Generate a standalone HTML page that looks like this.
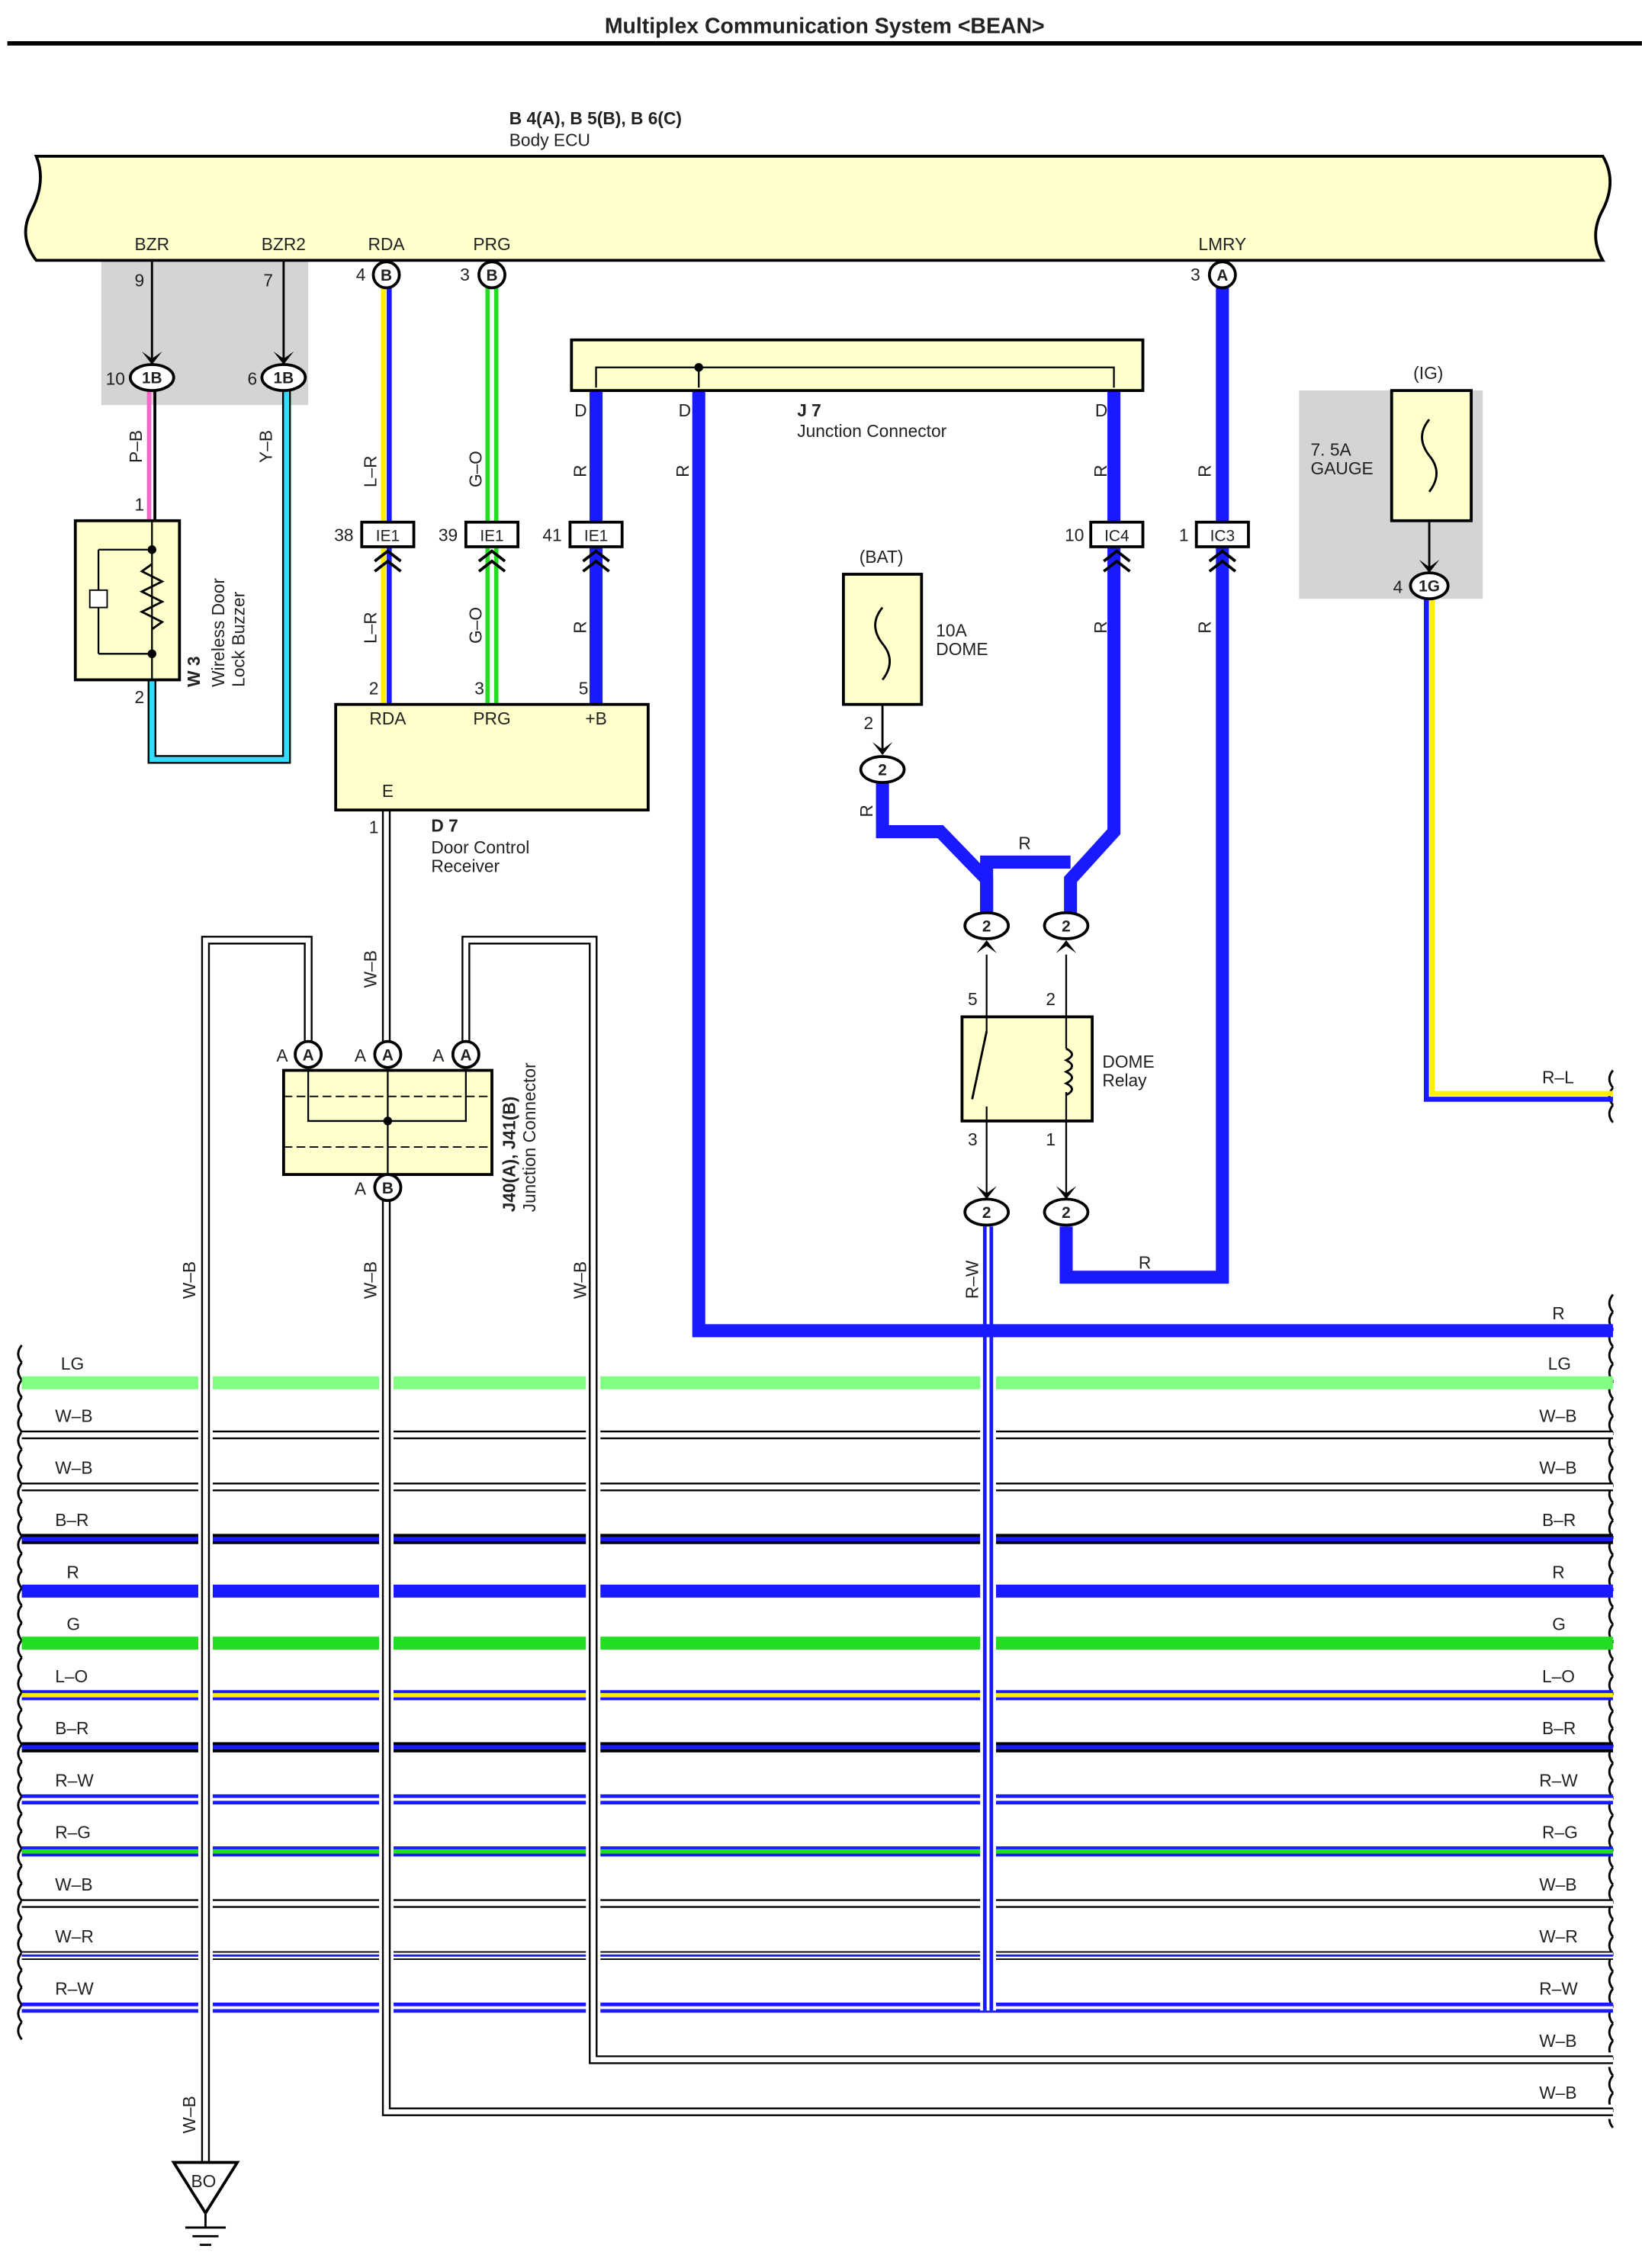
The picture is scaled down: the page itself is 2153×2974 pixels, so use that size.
<!DOCTYPE html>
<html><head><meta charset="utf-8">
<style>
html,body{margin:0;padding:0;background:#fff;}
svg{display:block;}
text{font-family:"Liberation Sans",Arial,sans-serif;fill:#222;}
</style></head>
<body>
<svg id="s" width="2153" height="2974" viewBox="0 0 1135 1568" xmlns="http://www.w3.org/2000/svg">
<rect width="1135" height="1568" fill="#fff"/>
<text x="570" y="23" text-anchor="middle" font-size="15" font-weight="bold">Multiplex Communication System &lt;BEAN&gt;</text>
<line x1="5" y1="30" x2="1135" y2="30" stroke="#000" stroke-width="3"/>

<!-- grey boxes -->
<rect x="70" y="180" width="143" height="100" fill="#d4d4d4"/>
<rect x="898" y="270" width="127" height="144" fill="#d4d4d4"/>

<!-- Body ECU -->
<path d="M25,108 L1108,108 Q1118,125 1108,145 Q1098,163 1108,180 L25,180 Q12,163 22,145 Q32,125 25,108 Z" fill="#ffffcc" stroke="#000" stroke-width="2"/>
<text x="352" y="86" font-size="12" font-weight="bold">B 4(A), B 5(B), B 6(C)</text>
<text x="352" y="101" font-size="12">Body ECU</text>
<text x="105" y="173" font-size="12" text-anchor="middle">BZR</text>
<text x="196" y="173" font-size="12" text-anchor="middle">BZR2</text>
<text x="267" y="173" font-size="12" text-anchor="middle">RDA</text>
<text x="340" y="173" font-size="12" text-anchor="middle">PRG</text>
<text x="845" y="173" font-size="12" text-anchor="middle">LMRY</text>

<g id="wires"></g>
<g id="top"></g>

<!-- static text labels -->
<g font-size="12">
<text x="93" y="198">9</text><text x="182" y="198">7</text>
<text x="246" y="194">4</text><text x="318" y="194">3</text><text x="823" y="194">3</text>
<text x="73" y="266">10</text><text x="171" y="266">6</text>
<text x="93" y="353">1</text><text x="93" y="486">2</text>
<text x="231" y="374">38</text><text x="303" y="374">39</text><text x="375" y="374">41</text>
<text x="736" y="374">10</text><text x="815" y="374">1</text>
<text x="255" y="480">2</text><text x="328" y="480">3</text><text x="400" y="480">5</text>
<text x="255" y="576">1</text>
<text x="397" y="288">D</text><text x="469" y="288">D</text><text x="757" y="288">D</text>
<text x="551" y="288" font-weight="bold">J 7</text>
<text x="551" y="302">Junction Connector</text>
<text x="594" y="389">(BAT)</text>
<text x="647" y="440">10A</text><text x="647" y="453">DOME</text>
<text x="597" y="504">2</text>
<text x="704" y="587">R</text>
<text x="669" y="695">5</text><text x="723" y="695">2</text>
<text x="669" y="792">3</text><text x="723" y="792">1</text>
<text x="762" y="738">DOME</text><text x="762" y="751">Relay</text>
<text x="787" y="877">R</text>
<text x="977" y="262">(IG)</text>
<text x="906" y="315">7. 5A</text><text x="906" y="328">GAUGE</text>
<text x="963" y="410">4</text>
<text x="1066" y="749">R–L</text>
<text x="1073" y="912">R</text>
<text x="298" y="575" font-weight="bold">D 7</text>
<text x="298" y="590">Door Control</text><text x="298" y="603">Receiver</text>
<text x="191" y="734">A</text><text x="245" y="734">A</text><text x="299" y="734">A</text><text x="245" y="826">A</text>
</g>
<g font-size="12">
<text transform="translate(98,320) rotate(-90)">P–B</text>
<text transform="translate(188,320) rotate(-90)">Y–B</text>
<text transform="translate(260,337) rotate(-90)">L–R</text>
<text transform="translate(333,337) rotate(-90)">G–O</text>
<text transform="translate(405,330) rotate(-90)">R</text>
<text transform="translate(476,330) rotate(-90)">R</text>
<text transform="translate(765,330) rotate(-90)">R</text>
<text transform="translate(837,330) rotate(-90)">R</text>
<text transform="translate(260,445) rotate(-90)">L–R</text>
<text transform="translate(333,445) rotate(-90)">G–O</text>
<text transform="translate(405,438) rotate(-90)">R</text>
<text transform="translate(765,438) rotate(-90)">R</text>
<text transform="translate(837,438) rotate(-90)">R</text>
<text transform="translate(603,565) rotate(-90)">R</text>
<text transform="translate(260,683) rotate(-90)">W–B</text>
<text transform="translate(135,898) rotate(-90)">W–B</text>
<text transform="translate(260,898) rotate(-90)">W–B</text>
<text transform="translate(405,898) rotate(-90)">W–B</text>
<text transform="translate(676,898) rotate(-90)">R–W</text>
<text transform="translate(135,1475) rotate(-90)">W–B</text>
<text transform="translate(138,475) rotate(-90)" font-weight="bold">W 3</text>
<text transform="translate(155,475) rotate(-90)">Wireless Door</text>
<text transform="translate(169,475) rotate(-90)">Lock Buzzer</text>
<text transform="translate(356,838) rotate(-90)" font-weight="bold">J40(A), J41(B)</text>
<text transform="translate(370,838) rotate(-90)">Junction Connector</text>
</g>
<g font-size="12">
<text x="42" y="947">LG</text><text x="1070" y="947">LG</text>
<text x="38" y="983">W–B</text><text x="1064" y="983">W–B</text>
<text x="38" y="1019">W–B</text><text x="1064" y="1019">W–B</text>
<text x="38" y="1055">B–R</text><text x="1066" y="1055">B–R</text>
<text x="46" y="1091">R</text><text x="1073" y="1091">R</text>
<text x="46" y="1127">G</text><text x="1073" y="1127">G</text>
<text x="38" y="1163">L–O</text><text x="1066" y="1163">L–O</text>
<text x="38" y="1199">B–R</text><text x="1066" y="1199">B–R</text>
<text x="38" y="1235">R–W</text><text x="1064" y="1235">R–W</text>
<text x="38" y="1271">R–G</text><text x="1066" y="1271">R–G</text>
<text x="38" y="1307">W–B</text><text x="1064" y="1307">W–B</text>
<text x="38" y="1343">W–R</text><text x="1064" y="1343">W–R</text>
<text x="38" y="1379">R–W</text><text x="1064" y="1379">R–W</text>
<text x="1064" y="1415">W–B</text><text x="1064" y="1451">W–B</text>
<text x="132" y="1512" font-size="12">BO</text>
</g>
<g id="conn" font-size="11" font-weight="bold"></g>
<g font-size="11" font-weight="bold">
<text x="105" y="265" text-anchor="middle">1B</text>
<text x="196" y="265" text-anchor="middle">1B</text>
<text x="267" y="194" text-anchor="middle">B</text>
<text x="340" y="194" text-anchor="middle">B</text>
<text x="845" y="194" text-anchor="middle">A</text>
<text x="268" y="374" text-anchor="middle" font-weight="normal">IE1</text>
<text x="340" y="374" text-anchor="middle" font-weight="normal">IE1</text>
<text x="412" y="374" text-anchor="middle" font-weight="normal">IE1</text>
<text x="772" y="374" text-anchor="middle" font-weight="normal">IC4</text>
<text x="845" y="374" text-anchor="middle" font-weight="normal">IC3</text>
<text x="988" y="409" text-anchor="middle">1G</text>
<text x="610" y="536" text-anchor="middle">2</text>
<text x="682" y="644" text-anchor="middle">2</text>
<text x="737" y="644" text-anchor="middle">2</text>
<text x="682" y="842" text-anchor="middle">2</text>
<text x="737" y="842" text-anchor="middle">2</text>
<text x="213" y="733" text-anchor="middle">A</text>
<text x="268" y="733" text-anchor="middle">A</text>
<text x="322" y="733" text-anchor="middle">A</text>
<text x="268" y="825" text-anchor="middle">B</text>
<text x="268" y="501" text-anchor="middle" font-weight="normal" font-size="12">RDA</text>
<text x="340" y="501" text-anchor="middle" font-weight="normal" font-size="12">PRG</text>
<text x="412" y="501" text-anchor="middle" font-weight="normal" font-size="12">+B</text>
<text x="268" y="551" text-anchor="middle" font-weight="normal" font-size="12">E</text>
</g>
</svg>
<script>
const NS="http://www.w3.org/2000/svg";
const W=document.getElementById('wires'),T=document.getElementById('top'),C=document.getElementById('conn');
function el(p,tag,a){const e=document.createElementNS(NS,tag);for(const k in a)e.setAttribute(k,a[k]);p.appendChild(e);return e;}
function pl(p,pts,col,w,extra){return el(p,'polyline',Object.assign({points:pts,fill:'none',stroke:col,'stroke-width':w,'stroke-linejoin':'miter'},extra||{}));}
const B='#1a1aff';
// buses
function wave(y0,y1,x){let d='';for(let y=y0;y<=y1;y+=12){d+=`M${x},${y} q-5,6 0,12 `;}return d;}
el(W,'path',{d:wave(930,1400,15),stroke:'#000',fill:'none','stroke-width':1.5});
el(W,'path',{d:wave(740,770,1115)+wave(895,1470,1115),stroke:'#000',fill:'none','stroke-width':1.5});
function bus(y,type,x0){x0=x0||15;const x1=1115;
 if(type=='LG')pl(W,`${x0},${y} ${x1},${y}`,'#80ff80',9);
 else if(type=='R')pl(W,`${x0},${y} ${x1},${y}`,B,9);
 else if(type=='G')pl(W,`${x0},${y} ${x1},${y}`,'#22dd22',9);
 else if(type=='WB'){pl(W,`${x0},${y} ${x1},${y}`,'#000',6);pl(W,`${x0},${y} ${x1},${y}`,'#fff',3.5);}
 else if(type=='BR'){pl(W,`${x0},${y} ${x1},${y}`,'#000',7);pl(W,`${x0},${y} ${x1},${y}`,B,3);}
 else if(type=='LO'){pl(W,`${x0},${y} ${x1},${y}`,B,7);pl(W,`${x0},${y} ${x1},${y}`,'#ffee00',3);}
 else if(type=='RW'){pl(W,`${x0},${y} ${x1},${y}`,B,7);pl(W,`${x0},${y} ${x1},${y}`,'#fff',2);}
 else if(type=='RG'){pl(W,`${x0},${y} ${x1},${y}`,B,7);pl(W,`${x0},${y} ${x1},${y}`,'#22dd22',3);}
 else if(type=='WR'){pl(W,`${x0},${y} ${x1},${y}`,'#000',6);pl(W,`${x0},${y} ${x1},${y}`,'#fff',4);pl(W,`${x0},${y} ${x1},${y}`,B,1.5);}
}
[['LG',956],['WB',992],['WB',1028],['BR',1064],['R',1100],['G',1136],['LO',1172],['BR',1208],['RW',1244],['RG',1280],['WB',1316],['WR',1352],['RW',1388]].forEach(a=>bus(a[1],a[0]));
// vertical WB wires with gap
function wb(pts){pl(T,pts,'#fff',10);pl(T,pts,'#000',6);pl(T,pts,'#fff',3.5);}
wb('142,1495 142,650 213,650 213,720');
wb('1115,1424 410,1424 410,650 322,650 322,720');
wb('1115,1460 267,1460 267,830');
wb('267,560 267,720');
// R-W from relay down
pl(T,'683,848 683,1390',' #fff',11);pl(T,'683,848 683,1390',B,7);pl(T,'683,848 683,1390','#fff',2);
// R blue from J7 D to 920
pl(T,'483,260 483,920 1115,920',B,9);
pl(T,'412,260 412,487',B,9);
pl(T,'770,260 770,575 740,608 740,632',B,9);
pl(T,'845,197 845,883 737,883 737,848',B,9);
pl(T,'610,540 610,575 650,575 682,608 682,632',B,9);
pl(T,'682,632 682,596 740,596',B,9);
// RDA yellow/blue, PRG green
function two(x,y0,y1,c1,c2){pl(T,`${x-2},${y0} ${x-2},${y1}`,c1,3.5);pl(T,`${x+2},${y0} ${x+2},${y1}`,c2,3.5);}
two(267,197,487,'#ffee00',B);
pl(T,'337,197 337,487','#22dd22',3);pl(T,'341,197 341,487','#fff',2);pl(T,'343,197 343,487','#22dd22',3);
// buzzer wires
pl(T,'103,270 103,360','#ff66cc',3);pl(T,'107,270 107,360','#000',2);
pl(T,'105,470 105,525 198,525 198,270','#000',6);pl(T,'105,470 105,525 198,525 198,270','#33ddff',3.5);
pl(T,'105,180 105,248','#000',1.5);pl(T,'196,180 196,248','#000',1.5);
// R-L
pl(T,'986,413 986,760 1115,760',B,3.5);pl(T,'990,413 990,756 1115,756','#ffee00',3.5);
// fuse wires
pl(T,'610,487 610,520','#000',1.5);pl(T,'988,360 988,395','#000',1.5);
// J7 box
el(T,'rect',{x:395,y:235,width:395,height:35,fill:'#ffffcc',stroke:'#000','stroke-width':2});
pl(T,'412,268 412,254 770,254 770,268','#000',1.2);pl(T,'483,254 483,268','#000',1.2);
el(T,'circle',{cx:483,cy:254,r:3,fill:'#000'});
// D7 box
el(T,'rect',{x:232,y:487,width:216,height:73,fill:'#ffffcc',stroke:'#000','stroke-width':2});
// buzzer
el(T,'rect',{x:52,y:360,width:72,height:110,fill:'#ffffcc',stroke:'#000','stroke-width':2});
pl(T,'105,360 105,470','#000',1.2);
pl(T,'68,380 105,380','#000',1.2);pl(T,'68,452 105,452','#000',1.2);pl(T,'68,380 68,452','#000',1.2);
el(T,'rect',{x:62,y:408,width:12,height:12,fill:'#fff',stroke:'#000'});
pl(T,'105,390 98,395 112,402 98,409 112,416 98,423 112,430 105,435','#000',1.5);
[380,452].forEach(y=>el(T,'circle',{cx:105,cy:y,r:3,fill:'#000'}));
// fuses
el(T,'rect',{x:583,y:397,width:54,height:90,fill:'#ffffcc',stroke:'#000','stroke-width':2});
el(T,'path',{d:'M610,420 q-10,12 0,25 q10,12 0,25',fill:'none',stroke:'#000','stroke-width':1.5});
el(T,'rect',{x:962,y:270,width:55,height:90,fill:'#ffffcc',stroke:'#000','stroke-width':2});
el(T,'path',{d:'M988,290 q-10,12 0,25 q10,12 0,25',fill:'none',stroke:'#000','stroke-width':1.5});
// relay
el(T,'rect',{x:665,y:703,width:90,height:72,fill:'#ffffcc',stroke:'#000','stroke-width':2});
pl(T,'682,660 682,713','#000',1.2);pl(T,'682,765 682,830','#000',1.2);pl(T,'682,713 672,760','#000',1.5);
pl(T,'737,660 737,725','#000',1.2);pl(T,'737,755 737,830','#000',1.2);
el(T,'path',{d:'M737,725 q8,4 0,8 q8,4 0,8 q8,4 0,8 q8,4 0,8',fill:'none',stroke:'#000','stroke-width':1.5});
// J40 box
el(T,'rect',{x:196,y:740,width:144,height:72,fill:'#ffffcc',stroke:'#000','stroke-width':2});
pl(T,'196,758 340,758','#000',1,{'stroke-dasharray':'6,3'});pl(T,'196,793 340,793','#000',1,{'stroke-dasharray':'6,3'});
pl(T,'213,740 213,775 322,775 322,740','#000',1.2);pl(T,'268,740 268,812','#000',1.2);
el(T,'circle',{cx:268,cy:775,r:3,fill:'#000'});
// ground
pl(T,'142,1495 120,1495 142,1530 164,1495 142,1495','#000',2);pl(T,'142,1530 142,1540','#000',1.5);
pl(T,'128,1540 156,1540','#000',1.5);pl(T,'133,1546 151,1546','#000',1.5);pl(T,'138,1552 146,1552','#000',1.5);
// connectors
function oval(x,y,rx){el(C,'ellipse',{cx:x,cy:y,rx:rx||15,ry:9,fill:'#fff',stroke:'#000','stroke-width':2});}
function circ(x,y){el(C,'circle',{cx:x,cy:y,r:9,fill:'#fff',stroke:'#000','stroke-width':2});}
oval(105,261);oval(196,261);oval(610,532);oval(682,640);oval(737,640);oval(682,838);oval(737,838);oval(988,405,13);
circ(267,190);circ(340,190);circ(845,190);circ(213,729);circ(268,729);circ(322,729);circ(268,821);
function box(x,y){el(C,'rect',{x:x-18,y:y-9,width:36,height:17,fill:'#fff',stroke:'#000','stroke-width':2});}
[268,340,412,772,845].forEach(x=>box(x,370));
function arrowDown(x,y){el(C,'path',{d:`M${x-7},${y-9} L${x},${y} L${x+7},${y-9} L${x},${y-4}Z`,fill:'#000'});}
arrowDown(105,252);arrowDown(196,252);arrowDown(610,522);arrowDown(988,396);arrowDown(682,829);arrowDown(737,829);
function arrowUp(x,y){el(C,'path',{d:`M${x-7},${y+9} L${x},${y} L${x+7},${y+9} L${x},${y+4}Z`,fill:'#000'});}
arrowUp(682,650);arrowUp(737,650);
function chev(x,y){pl(C,`${x-9},${y+7} ${x},${y} ${x+9},${y+7}`,'#000',2);pl(C,`${x-9},${y+14} ${x},${y+7} ${x+9},${y+14}`,'#000',2);}
[268,340,412,772,845].forEach(x=>chev(x,381));
</script>
</body></html>
